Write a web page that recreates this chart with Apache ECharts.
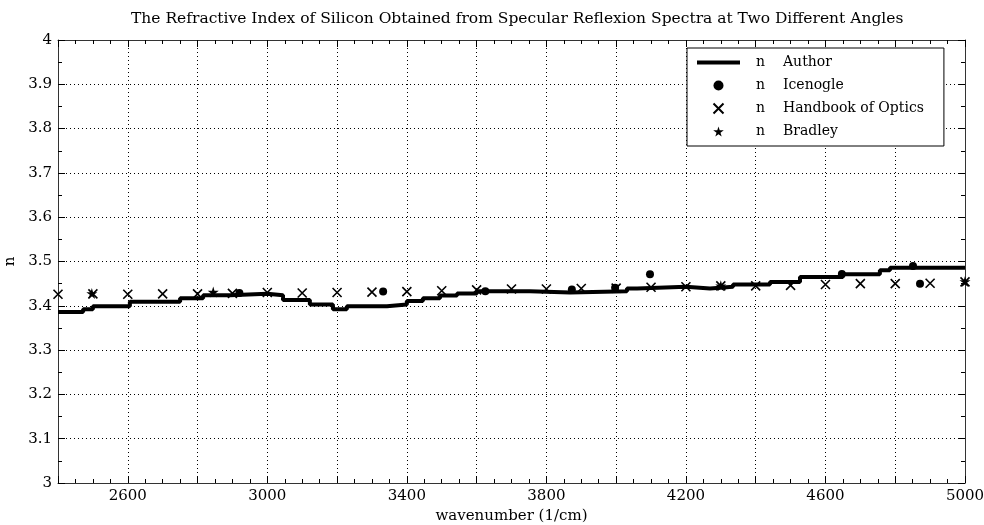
<!DOCTYPE html>
<html>
<head>
<meta charset="utf-8">
<title>Refractive Index of Silicon</title>
<script src="https://cdn.jsdelivr.net/npm/echarts@6/dist/echarts.min.js"></script>
<style>
    html, body { margin: 0; padding: 0; background: #fff; }
    #chart { width: 984px; height: 525px; }
</style>
</head>
<body>
<div id="chart"></div>
<script>
// --- data ---

// Author: stepped curve, each entry is the start of a level
const authorWave = [2400, 2472, 2500, 2606, 2750, 2816, 2893, 3000, 3045, 3122, 3188, 3228, 3343, 3400, 3446, 3495, 3544, 3601, 3753, 3868, 4031, 4060, 4200, 4269, 4335, 4441, 4527, 4650, 4756, 4785, 5000];
const authorN = [3.386, 3.392, 3.399, 3.409, 3.417, 3.424, 3.427, 3.424, 3.413, 3.403, 3.392, 3.399, 3.403, 3.411, 3.417, 3.423, 3.428, 3.433, 3.430, 3.433, 3.439, 3.443, 3.439, 3.443, 3.448, 3.454, 3.465, 3.471, 3.480, 3.486, 3.487];

const icenogleWave = [2920, 3332, 3625, 3873, 3997, 4097, 4647, 4851, 4871];
const icenogleN = [3.429, 3.432, 3.433, 3.437, 3.441, 3.471, 3.472, 3.490, 3.450];

const handbookWave = [2400, 2500, 2600, 2700, 2800, 2900, 3000, 3100, 3200, 3300, 3400, 3500, 3600, 3700, 3800, 3900, 4000, 4100, 4200, 4300, 4400, 4500, 4600, 4700, 4800, 4900, 5000];
const handbookN = [3.426, 3.427, 3.426, 3.427, 3.427, 3.428, 3.430, 3.429, 3.430, 3.431, 3.432, 3.434, 3.436, 3.438, 3.438, 3.439, 3.440, 3.442, 3.443, 3.445, 3.445, 3.446, 3.448, 3.450, 3.450, 3.451, 3.454];

const bradleyWave = [2497, 2845, 4300, 5000];
const bradleyN = [3.428, 3.431, 3.445, 3.455];

const seriesNames = ['Author', 'Icenogle', 'Handbook of Optics', 'Bradley'];

const FONT = 'DejaVu Serif';
const CROSS = 'path://M0,0L10,10M10,0L0,10';
const STAR = 'path://M50,0L61,35L98,35L68,57L79,91L50,70L21,91L32,57L2,35L39,35Z';
const BAR = 'path://M0,0H43V4H0Z';

function zip(xs, ys) {
    return xs.map((x, i) => [x, ys[i]]);
}

const chart = echarts.init(document.getElementById('chart'));

const gridLine = { show: true, lineStyle: { color: '#000', type: [1, 3], width: 1 } };
const axisLine = { show: true, lineStyle: { color: '#333', width: 1 } };
const tick = { show: true, inside: true, length: 7, lineStyle: { color: '#000' } };
const minorTick = { show: true, length: 4, lineStyle: { color: '#000' } };

const option = {
    animation: false,
    backgroundColor: '#fff',
    title: {
        text: 'The Refractive Index of Silicon Obtained from Specular Reflexion Spectra at Two Different Angles',
        left: 126,
        top: 6,
        textStyle: { fontFamily: FONT, fontSize: 15.5, fontWeight: 'normal', color: '#000' }
    },
    grid: { left: 58, right: 19, top: 40, bottom: 42, outerBoundsMode: 'none', containLabel: false },
    legend: {
        orient: 'vertical',
        left: 687,
        top: 48,
        padding: [6, 20, 6, 10],
        itemWidth: 43,
        itemHeight: 10,
        itemGap: 6,
        backgroundColor: '#fff',
        borderColor: '#000',
        borderWidth: 1,
        data: [
            { name: seriesNames[0], icon: BAR },
            seriesNames[1], seriesNames[2], seriesNames[3]
        ],
        formatter: name => '{n|n}' + name,
        textStyle: {
            fontFamily: FONT,
            fontSize: 14,
            color: '#000',
            lineHeight: 17,
            rich: { n: { width: 16, padding: [0, 11, 0, 11], fontFamily: FONT, fontSize: 14, lineHeight: 17 } }
        }
    },
    xAxis: [
        {
            type: 'value', min: 2400, max: 5000, interval: 200,
            name: 'wavenumber (1/cm)', nameLocation: 'middle', nameGap: 26,
            nameTextStyle: { fontFamily: FONT, fontSize: 15, color: '#000' },
            axisLine: axisLine, axisTick: tick,
            minorTick: Object.assign({ splitNumber: 4 }, minorTick),
            splitLine: gridLine,
            axisLabel: {
                fontFamily: FONT, fontSize: 15, color: '#000', margin: 6,
                formatter: v => ((v - 2600) % 400 === 0 ? String(v) : '')
            }
        },
        {
            type: 'value', position: 'top', min: 2400, max: 5000, interval: 200,
            axisLine: axisLine, axisTick: tick,
            minorTick: Object.assign({ splitNumber: 4 }, minorTick),
            splitLine: { show: false }, axisLabel: { show: false }
        }
    ],
    yAxis: [
        {
            type: 'value', min: 3, max: 4, interval: 0.1,
            name: 'n', nameLocation: 'middle', nameGap: 40, nameMoveOverlap: false,
            nameTextStyle: { fontFamily: FONT, fontSize: 15, color: '#000' },
            axisLine: axisLine, axisTick: tick,
            minorTick: Object.assign({ splitNumber: 2 }, minorTick),
            splitLine: gridLine,
            axisLabel: { fontFamily: FONT, fontSize: 15, color: '#000', margin: 6 }
        },
        {
            type: 'value', position: 'right', min: 3, max: 4, interval: 0.1,
            axisLine: axisLine, axisTick: tick,
            minorTick: Object.assign({ splitNumber: 2 }, minorTick),
            splitLine: { show: false }, axisLabel: { show: false }
        }
    ],
    series: [
        {
            name: seriesNames[0],
            type: 'line',
            step: 'end',
            data: zip(authorWave, authorN),
            symbol: 'none',
            lineStyle: { color: '#000', width: 4 },
            itemStyle: { color: '#000' },
            z: 2
        },
        {
            name: seriesNames[1],
            type: 'scatter',
            data: zip(icenogleWave, icenogleN),
            symbol: 'circle',
            symbolSize: 8,
            itemStyle: { color: '#000', opacity: 1 },
            z: 3
        },
        {
            name: seriesNames[2],
            type: 'scatter',
            data: zip(handbookWave, handbookN),
            symbol: CROSS,
            symbolSize: 9,
            itemStyle: { color: 'none', borderColor: '#000', borderWidth: 1.6, opacity: 1 },
            z: 3
        },
        {
            name: seriesNames[3],
            type: 'scatter',
            data: zip(bradleyWave, bradleyN),
            symbol: STAR,
            symbolSize: 11,
            itemStyle: { color: '#000', opacity: 1 },
            z: 3
        }
    ]
};

chart.setOption(option);
</script>
</body>
</html>
